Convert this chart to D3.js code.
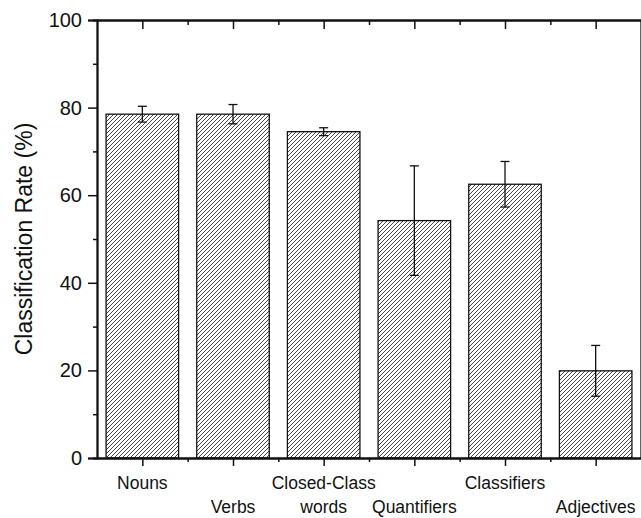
<!DOCTYPE html>
<html>
<head>
<meta charset="utf-8">
<script src="https://cdn.jsdelivr.net/npm/d3@7"></script>
<style>
  body { margin: 0; background: #fff; }
  svg { display: block; font-family: "Liberation Sans", Arial, sans-serif; }
  .axis path, .axis line { stroke: #111; }
  .axis text { fill: #111; }
</style>
</head>
<body>
<div id="main"></div>
<script>
// data
const categories = ["Nouns", "Verbs", "Closed-Class words", "Quantifiers", "Classifiers", "Adjectives"];
const rates = [78.5, 78.5, 74.5, 54.2, 62.5, 19.9];
const errors = [1.8, 2.2, 0.9, 12.5, 5.2, 5.8];
// label lines: first row, second row
const labelRows = [["Nouns", ""], ["", "Verbs"], ["Closed-Class", "words"], ["", "Quantifiers"], ["Classifiers", ""], ["", "Adjectives"]];
const yTicks = [0, 20, 40, 60, 80, 100];
const yMinor = [10, 30, 50, 70, 90];

const ctx = {
    CHART_WIDTH: 641,
    CHART_HEIGHT: 518,
    LEFT: 97,
    RIGHT: 641,
    TOP: 20,
    BOTTOM: 458
};

function drawChart(){
    let g = d3.select("#mainG");
    let xs = categories.map((d, i) => i + 1);
    let xMinor = d3.range(1.5, categories.length, 1);

    ctx.xScale = d3.scaleLinear().domain([0.5, categories.length + 0.5])
                                 .range([ctx.LEFT, ctx.RIGHT]);
    ctx.yScale = d3.scaleLinear().domain([0, 100])
                                 .range([ctx.BOTTOM, ctx.TOP]);

    // hatch pattern
    let pat = d3.select("svg").append("defs").append("pattern")
        .attr("id", "hatch")
        .attr("patternUnits", "userSpaceOnUse")
        .attr("width", 4).attr("height", 4);
    pat.append("rect").attr("width", 4).attr("height", 4).attr("fill", "#fff");
    pat.append("path")
        .attr("d", "M0,4 L4,0 M-1,1 L1,-1 M3,5 L5,3")
        .attr("stroke", "#333")
        .attr("stroke-width", 0.9);

    let bw = (ctx.xScale(1.4) - ctx.xScale(0.6));

    g.selectAll("rect.bar")
        .data(rates)
        .enter().append("rect")
        .attr("class", "bar")
        .attr("x", (d, i) => ctx.xScale(xs[i]) - bw/2)
        .attr("y", d => ctx.yScale(d))
        .attr("width", bw)
        .attr("height", d => ctx.yScale(0) - ctx.yScale(d))
        .attr("fill", "url(#hatch)")
        .attr("stroke", "#111")
        .attr("stroke-width", 1.3);

    // error bars
    let eg = g.selectAll("g.err")
        .data(rates)
        .enter().append("g")
        .attr("class", "err")
        .attr("stroke", "#111")
        .attr("stroke-width", 1.3);
    eg.append("line")
        .attr("x1", (d, i) => ctx.xScale(xs[i]))
        .attr("x2", (d, i) => ctx.xScale(xs[i]))
        .attr("y1", (d, i) => ctx.yScale(d + errors[i]))
        .attr("y2", (d, i) => ctx.yScale(d - errors[i]));
    [1, -1].forEach(s => {
        eg.append("line")
            .attr("x1", (d, i) => ctx.xScale(xs[i]) - 4.5)
            .attr("x2", (d, i) => ctx.xScale(xs[i]) + 4.5)
            .attr("y1", (d, i) => ctx.yScale(d + s*errors[i]))
            .attr("y2", (d, i) => ctx.yScale(d + s*errors[i]));
    });

    // axes: left (outward), bottom (outward), top and right (inward)
    let yAxisL = g.append("g").attr("class", "axis")
      .attr("transform", `translate(${ctx.LEFT},0)`)
      .call(d3.axisLeft(ctx.yScale).tickValues(yTicks).tickSize(9).tickPadding(6));
    yAxisL.selectAll("text").style("font-size", "20px");
    g.append("g").attr("class", "axis")
      .attr("transform", `translate(${ctx.LEFT},0)`)
      .call(d3.axisLeft(ctx.yScale).tickValues(yMinor).tickSize(4).tickFormat(""));

    g.append("g").attr("class", "axis")
      .attr("transform", `translate(${ctx.RIGHT},0)`)
      .call(d3.axisLeft(ctx.yScale).tickValues(yTicks).tickSize(-8).tickFormat("").tickSizeOuter(0));
    g.append("g").attr("class", "axis")
      .attr("transform", `translate(${ctx.RIGHT},0)`)
      .call(d3.axisLeft(ctx.yScale).tickValues(yMinor).tickSize(-4).tickFormat("").tickSizeOuter(0));

    g.append("g").attr("class", "axis")
      .attr("transform", `translate(0,${ctx.BOTTOM})`)
      .call(d3.axisBottom(ctx.xScale).tickValues(xs).tickSize(8).tickFormat("").tickSizeOuter(0));
    g.append("g").attr("class", "axis")
      .attr("transform", `translate(0,${ctx.BOTTOM})`)
      .call(d3.axisBottom(ctx.xScale).tickValues(xMinor).tickSize(4).tickFormat("").tickSizeOuter(0));

    g.append("g").attr("class", "axis")
      .attr("transform", `translate(0,${ctx.TOP})`)
      .call(d3.axisBottom(ctx.xScale).tickValues(xs).tickSize(9).tickFormat("").tickSizeOuter(0));
    g.append("g").attr("class", "axis")
      .attr("transform", `translate(0,${ctx.TOP})`)
      .call(d3.axisBottom(ctx.xScale).tickValues(xMinor).tickSize(5).tickFormat("").tickSizeOuter(0));

    g.selectAll(".axis path.domain").attr("stroke-width", 1.8);
    g.selectAll(".axis line").attr("stroke-width", 1.5);

    // category labels on two staggered rows
    labelRows.forEach((rows, i) => {
        rows.forEach((t, r) => {
            if (t === "") return;
            g.append("text")
              .attr("x", ctx.xScale(xs[i]))
              .attr("y", r === 0 ? 489 : 513)
              .attr("text-anchor", "middle")
              .style("font-size", "17.5px")
              .style("fill", "#111")
              .text(t);
        });
    });

    g.append("text")
      .attr("transform", `translate(32,${(ctx.TOP + ctx.BOTTOM)/2}) rotate(-90)`)
      .attr("text-anchor", "middle")
      .style("font-size", "23px")
      .style("fill", "#111")
      .text("Classification Rate (%)");
}

function createViz(){
    var svgEl = d3.select("#main").append("svg");
    svgEl.attr("width", ctx.CHART_WIDTH);
    svgEl.attr("height", ctx.CHART_HEIGHT);
    svgEl.append("g").attr("id", "mainG");
    drawChart();
}

createViz();
</script>
</body>
</html>
